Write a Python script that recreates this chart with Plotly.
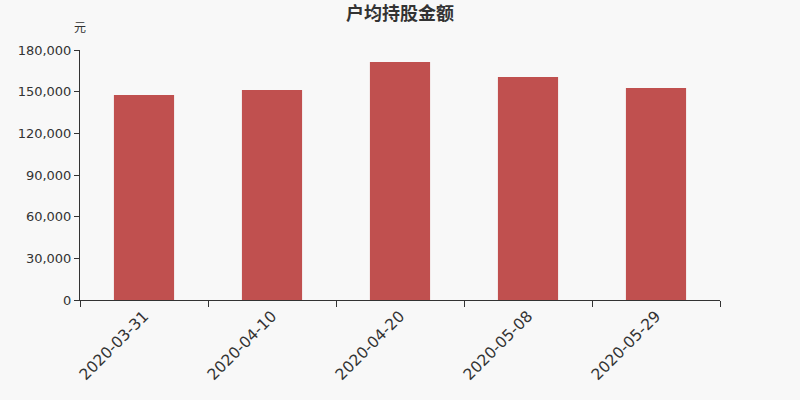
import plotly.graph_objects as go

# data
dates = ["2020-03-31", "2020-04-10", "2020-04-20", "2020-05-08", "2020-05-29"]
amounts = [147600, 151200, 171300, 160500, 152600]
y_ticks = [0, 30000, 60000, 90000, 120000, 150000, 180000]
y_labels = ["0", "30,000", "60,000", "90,000", "120,000", "150,000", "180,000"]

font_family = "DejaVu Sans, Noto Sans CJK SC, sans-serif"
axis_color = "#333333"

fig = go.Figure()
fig.add_trace(go.Bar(
    x=dates,
    y=amounts,
    marker=dict(color="#c0504f", line=dict(width=0)),
    width=0.47,
    hoverinfo="x+y",
))

fig.update_layout(
    width=800,
    height=400,
    paper_bgcolor="#f8f8f8",
    plot_bgcolor="#f8f8f8",
    margin=dict(l=80, r=80, t=50, b=100),
    showlegend=False,
    font=dict(family=font_family, color=axis_color),
    title=dict(
        text="<b>户均持股金额</b>",
        x=0.5, xanchor="center",
        y=0.967, yanchor="middle",
        font=dict(size=18, color=axis_color,
                  family="Noto Sans CJK SC, sans-serif"),
    ),
    annotations=[dict(
        text="元", xref="paper", yref="paper",
        x=0, y=1.0, xanchor="center", yanchor="bottom",
        yshift=13, showarrow=False,
        font=dict(size=12, color=axis_color,
                  family="Noto Sans CJK SC, sans-serif"),
    )],
)

fig.update_xaxes(
    type="category",
    tickson="boundaries",
    ticks="outside",
    ticklen=6,
    tickcolor=axis_color,
    showline=True,
    linecolor=axis_color,
    linewidth=1,
    showgrid=False,
    tickangle=-45,
    tickfont=dict(size=15.5, color=axis_color),
)

fig.update_yaxes(
    range=[0, 180000],
    tickvals=y_ticks,
    ticktext=y_labels,
    ticks="outside",
    ticklen=5,
    tickcolor=axis_color,
    showline=True,
    linecolor=axis_color,
    linewidth=1,
    showgrid=False,
    zeroline=False,
    tickfont=dict(size=13, color=axis_color),
)

# drop the default page margin so the chart fills the window
fig.write_html(
    "out.html",
    config={"displayModeBar": False},
    post_script="document.body.style.margin='0';",
)
